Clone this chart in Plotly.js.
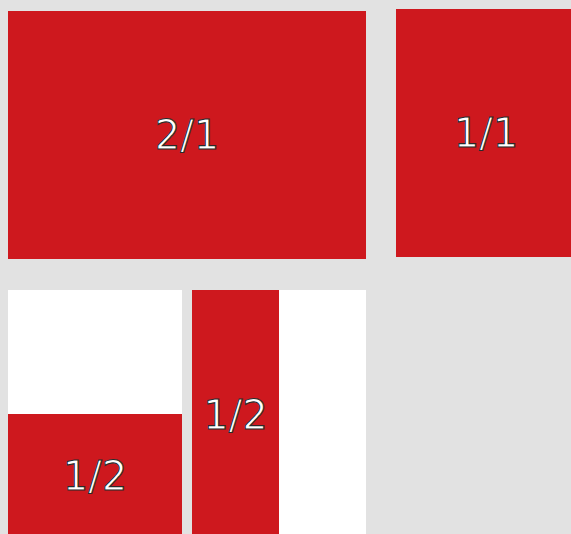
<!DOCTYPE html>
<html>
<head>
<meta charset="utf-8">
<script src="https://cdn.plot.ly/plotly-3.0.1.min.js"></script>
<style>
  html, body { margin: 0; padding: 0; overflow: hidden; background: #e2e2e2; }
  #chart { width: 580px; height: 545px; }
  #chart text.bartext { stroke: #2a2a2a !important; stroke-width: 1.1px !important; }
</style>
</head>
<body>
<div id="chart"></div>
<script>
// Data
const panelLabels = ['2/1', '1/1', '1/2', '1/2'];
const fillFractions = [1, 1, 0.5, 0.5];

const W = 580, H = 545;
const RED = '#ce181e';
const px = (a, b) => [a / W, b / W];
const py = (top, bottom) => [1 - bottom / H, 1 - top / H];

const textFont = { family: 'DejaVu Sans', size: 40, color: '#ffffff' };

function barTrace(i, xa, ya, orientation) {
  const t = {
    type: 'bar', orientation: orientation,
    width: [1], base: [0],
    text: [panelLabels[i]], textposition: 'inside', insidetextanchor: 'middle',
    textangle: 0, constraintext: 'none',
    textfont: textFont, insidetextfont: textFont,
    marker: { color: RED, line: { width: 0 } },
    hoverinfo: 'skip', showlegend: false,
    xaxis: xa, yaxis: ya
  };
  if (orientation === 'h') { t.x = [fillFractions[i]]; t.y = [0.5]; }
  else { t.x = [0.5]; t.y = [fillFractions[i]]; }
  return t;
}

const traces = [
  barTrace(0, 'x', 'y', 'v'),
  barTrace(1, 'x2', 'y2', 'v'),
  barTrace(2, 'x3', 'y3', 'v'),
  barTrace(3, 'x4', 'y4', 'h')
];

const ax = (domain, anchor) => ({
  domain: domain, anchor: anchor, range: [0, 1], visible: false, fixedrange: true
});

const layout = {
  width: W, height: H,
  margin: { l: 0, r: 0, t: 0, b: 0, pad: 0 },
  paper_bgcolor: '#e2e2e2', plot_bgcolor: '#ffffff',
  bargap: 0,
  xaxis: ax(px(8, 366), 'y'),   yaxis: ax(py(11, 259), 'x'),
  xaxis2: ax(px(396, 576), 'y2'), yaxis2: ax(py(9, 257), 'x2'),
  xaxis3: ax(px(8, 182), 'y3'),  yaxis3: ax(py(290, 538), 'x3'),
  xaxis4: ax(px(192, 366), 'y4'), yaxis4: ax(py(290, 540), 'x4')
};

Plotly.newPlot('chart', traces, layout, { displayModeBar: false, staticPlot: true });
</script>
</body>
</html>
